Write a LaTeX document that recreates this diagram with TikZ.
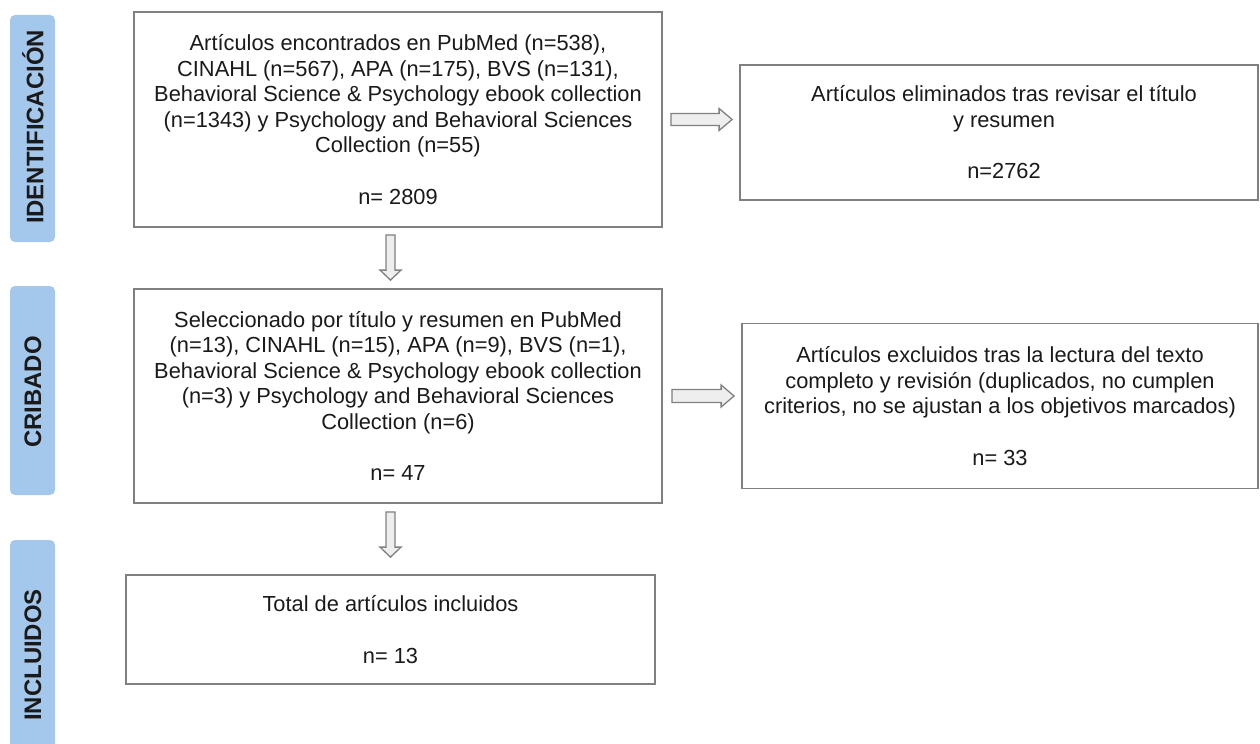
\documentclass[tikz,border=0pt]{standalone}
\usepackage{fontspec}
\setmainfont{Liberation Sans}
\usetikzlibrary{calc}
\definecolor{labelblue}{RGB}{164,199,236}
\definecolor{boxgrey}{RGB}{128,128,128}
\definecolor{arrowfill}{RGB}{238,238,238}
\definecolor{txt}{RGB}{26,26,26}
\tikzset{
  stagelabel/.style={fill=labelblue, rounded corners=5bp, draw=none},
  stagetext/.style={rotate=90, font=\fontsize{24}{27}\selectfont\bfseries, text=txt},
  flowbox/.style={draw=boxgrey, line width=1.8bp, fill=white, align=center, inner sep=0pt,
    font=\fontsize{21.9}{25.7}\selectfont, text=txt},
  blockarrow/.style={draw=boxgrey, fill=arrowfill, line width=1.3bp, line join=miter}
}
\begin{document}
\begin{tikzpicture}[x=1bp,y=-1bp]
\useasboundingbox (0,0) rectangle (1260,744);
\clip (0,0) rectangle (1260,744);
% stage labels
\path[stagelabel] (10,15) rectangle (55,242);
\node[stagetext] (lid) at (33,127) {IDENTIFICACIÓN};
\path[stagelabel] (10,286) rectangle (55,495);
\node[stagetext] (lcr) at (33,392) {CRIBADO};
\path[stagelabel] (10,540) rectangle (55,775);
\node[stagetext] (lin) at (33,655) {INCLUIDOS};
% boxes
\node[flowbox, minimum width=528bp, minimum height=215bp] (b1) at (398,119.5)
 {Artículos encontrados en PubMed (n=538),\\
  CINAHL (n=567), APA (n=175), BVS (n=131),\\
  Behavioral Science \& Psychology ebook collection\\
  (n=1343) y Psychology and Behavioral Sciences\\
  Collection (n=55)\\[25.7bp]
  n= 2809};
\node[flowbox, minimum width=518bp, minimum height=135bp] (b2) at (999,132.5)
 {\hspace*{10bp}Artículos eliminados tras revisar el título\\
  \hspace*{10bp}y resumen\\[25.7bp]
  \hspace*{10bp}n=2762};
\node[flowbox, minimum width=528bp, minimum height=214bp] (b3) at (398,396)
 {Seleccionado por título y resumen en PubMed\\
  (n=13), CINAHL (n=15), APA (n=9), BVS (n=1),\\
  Behavioral Science \& Psychology ebook collection\\
  (n=3) y Psychology and Behavioral Sciences\\
  Collection (n=6)\\[25.7bp]
  n= 47};
\node[flowbox, minimum width=516bp, minimum height=165bp] (b4) at (1000,406)
 {Artículos excluidos tras la lectura del texto\\
  completo y revisión (duplicados, no cumplen\\
  criterios, no se ajustan a los objetivos marcados)\\[25.7bp]
  n= 33};
\node[flowbox, minimum width=529bp, minimum height=109bp] (b5) at (390.5,629.5)
 {Total de artículos incluidos\\[25.7bp]
  n= 13};
% horizontal block arrows
\coordinate (h1s) at ($(b1.east)+(8,0)$);
\coordinate (h1e) at ($(b2.west |- b1.east)+(-7,0)$);
\draw[blockarrow] ($(h1s)+(0,-6)$) -- ($(h1e)+(-13,-6)$) -- ($(h1e)+(-13,-11)$) -- (h1e)
  -- ($(h1e)+(-13,11)$) -- ($(h1e)+(-13,6)$) -- ($(h1s)+(0,6)$) -- cycle;
\coordinate (h2s) at ($(b3.east)+(9,0)$);
\coordinate (h2e) at ($(b4.west |- b3.east)+(-7,0)$);
\draw[blockarrow] ($(h2s)+(0,-6.5)$) -- ($(h2e)+(-13,-6.5)$) -- ($(h2e)+(-13,-11)$) -- (h2e)
  -- ($(h2e)+(-13,11)$) -- ($(h2e)+(-13,6.5)$) -- ($(h2s)+(0,6.5)$) -- cycle;
% vertical block arrows
\coordinate (v1s) at ($(b1.south)+(-7.5,7)$);
\coordinate (v1e) at ($(b3.north)+(-7.5,-8)$);
\draw[blockarrow] ($(v1s)+(-4.5,0)$) -- ($(v1e)+(-4.5,-10)$) -- ($(v1e)+(-10.5,-10)$) -- (v1e)
  -- ($(v1e)+(10.5,-10)$) -- ($(v1e)+(4.5,-10)$) -- ($(v1s)+(4.5,0)$) -- cycle;
\coordinate (v2s) at ($(b3.south)+(-7.5,8)$);
\coordinate (v2e) at (v2s |- {$(b5.north)+(0,-17)$});
\draw[blockarrow] ($(v2s)+(-4.5,0)$) -- ($(v2e)+(-4.5,-10)$) -- ($(v2e)+(-10.5,-10)$) -- (v2e)
  -- ($(v2e)+(10.5,-10)$) -- ($(v2e)+(4.5,-10)$) -- ($(v2s)+(4.5,0)$) -- cycle;
\end{tikzpicture}
\end{document}
